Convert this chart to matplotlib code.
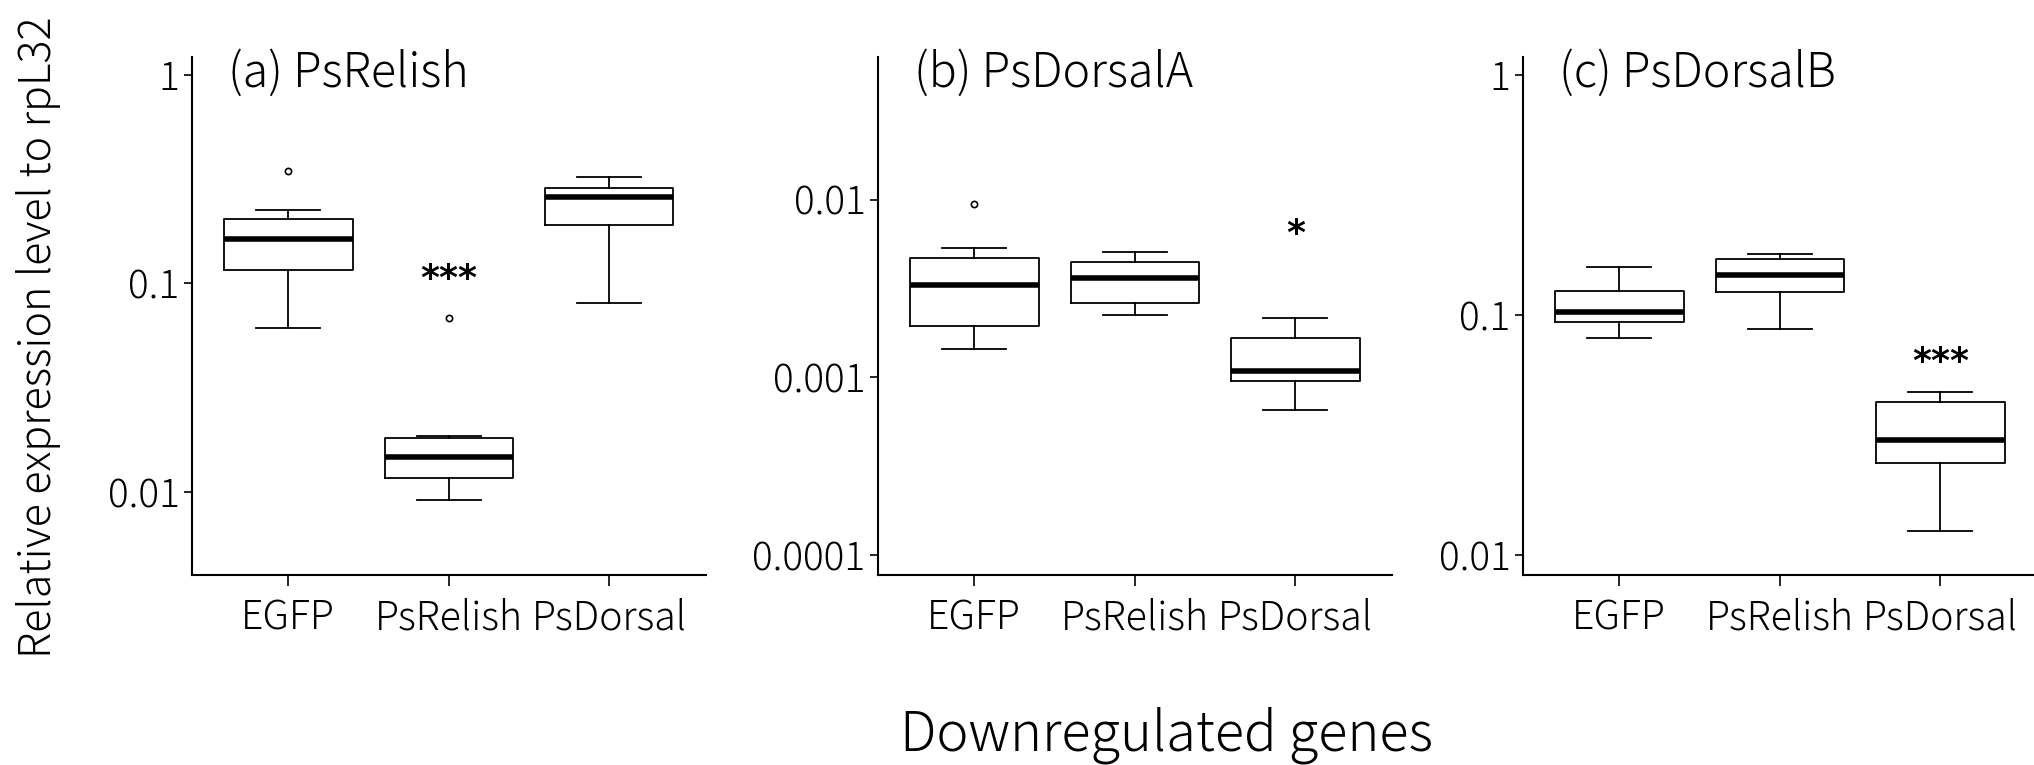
import matplotlib
matplotlib.use("Agg")
import matplotlib.pyplot as plt

plt.rcParams['font.family'] = ['Noto Sans CJK JP', 'DejaVu Sans']
plt.rcParams['font.weight'] = 'light'

genes = ["EGFP", "PsRelish", "PsDorsal"]
titles = ["(a) PsRelish", "(b) PsDorsalA", "(c) PsDorsalB"]

# box stats: lower whisker, q1, median, q3, upper whisker
a_low = [0.061, 0.00915, 0.081]
a_q1 = [0.116, 0.0117, 0.190]
a_med = [0.164, 0.0148, 0.259]
a_q3 = [0.204, 0.0181, 0.287]
a_high = [0.225, 0.0187, 0.324]
a_out = [[0.345], [0.068], []]

b_low = [0.00144, 0.00223, 0.000656]
b_q1 = [0.00195, 0.00263, 0.00095]
b_med = [0.00329, 0.00362, 0.00108]
b_q3 = [0.0047, 0.00446, 0.00167]
b_high = [0.00532, 0.00505, 0.00215]
b_out = [[0.0094], [], []]

c_low = [0.0805, 0.0873, 0.01265]
c_q1 = [0.0936, 0.1247, 0.0241]
c_med = [0.1026, 0.1465, 0.0303]
c_q3 = [0.126, 0.1715, 0.0436]
c_high = [0.158, 0.179, 0.0478]
c_out = [[], [], []]

# significance marks: (position, y, text)
a_sig = [(2, 0.105, "***")]
b_sig = [(3, 0.0064, "*")]
c_sig = [(3, 0.0640, "***")]

panels = [
    (a_low, a_q1, a_med, a_q3, a_high, a_out, a_sig, (10**-2.398, 10**0.086),
     [0.01, 0.1, 1], ["0.01", "0.1", "1"]),
    (b_low, b_q1, b_med, b_q3, b_high, b_out, b_sig, (10**-4.114, 10**-1.196),
     [0.0001, 0.001, 0.01], ["0.0001", "0.001", "0.01"]),
    (c_low, c_q1, c_med, c_q3, c_high, c_out, c_sig, (10**-2.084, 10**0.075),
     [0.01, 0.1, 1], ["0.01", "0.1", "1"]),
]

W, H = 2034, 765
fig = plt.figure(figsize=(W / 100, H / 100), dpi=100)

lefts = [192, 878, 1523]
ax_w = 513.6
ax_top, ax_bot = 56.7, 575.4

for i, (lo, q1, med, q3, hi, outs, sig, ylim, yt, ytl) in enumerate(panels):
    ax = fig.add_axes([lefts[i] / W, (H - ax_bot) / H, ax_w / W, (ax_bot - ax_top) / H])
    stats = []
    for j in range(3):
        stats.append({"whislo": lo[j], "q1": q1[j], "med": med[j], "q3": q3[j],
                      "whishi": hi[j], "fliers": outs[j]})
    ax.bxp(stats, positions=[1, 2, 3], widths=0.8, showcaps=True,
           boxprops=dict(color="black", linewidth=1.3),
           medianprops=dict(color="black", linewidth=4.0, solid_capstyle="butt"),
           whiskerprops=dict(color="black", linewidth=1.3),
           capprops=dict(color="black", linewidth=1.3),
           capwidths=0.4,
           flierprops=dict(marker="o", markersize=4.5, markerfacecolor="white",
                           markeredgecolor="black", markeredgewidth=1.2))
    ax.set_yscale("log")
    ax.set_ylim(*ylim)
    ax.set_xlim(0.4, 3.6)
    ax.set_yticks(yt)
    ax.set_yticklabels(ytl)
    ax.minorticks_off()
    ax.set_xticks([1, 2, 3])
    ax.set_xticklabels(genes)
    for s in ["top", "right"]:
        ax.spines[s].set_visible(False)
    for s in ["left", "bottom"]:
        ax.spines[s].set_linewidth(1.5)
    ax.tick_params(axis="y", length=6, width=1.2, labelsize=28, pad=3)
    ax.tick_params(axis="x", length=8, width=1.2, labelsize=28.3, pad=8)
    ax.text(0.07, 0.968, titles[i], transform=ax.transAxes, fontsize=33.5,
            ha="left", va="center")
    for x, y, s in sig:
        ax.text(x, y, s, ha="center", va="center", fontsize=26,
                fontweight="bold", family="DejaVu Sans")

fig.text(39 / W, 1 - 337 / H, "Relative expression level to rpL32", rotation=90,
         ha="center", va="center", fontsize=31)
fig.text(1167 / W, 1 - 735 / H, "Downregulated genes", ha="center", va="center",
         fontsize=39)

fig.savefig("out.png", dpi=100)
